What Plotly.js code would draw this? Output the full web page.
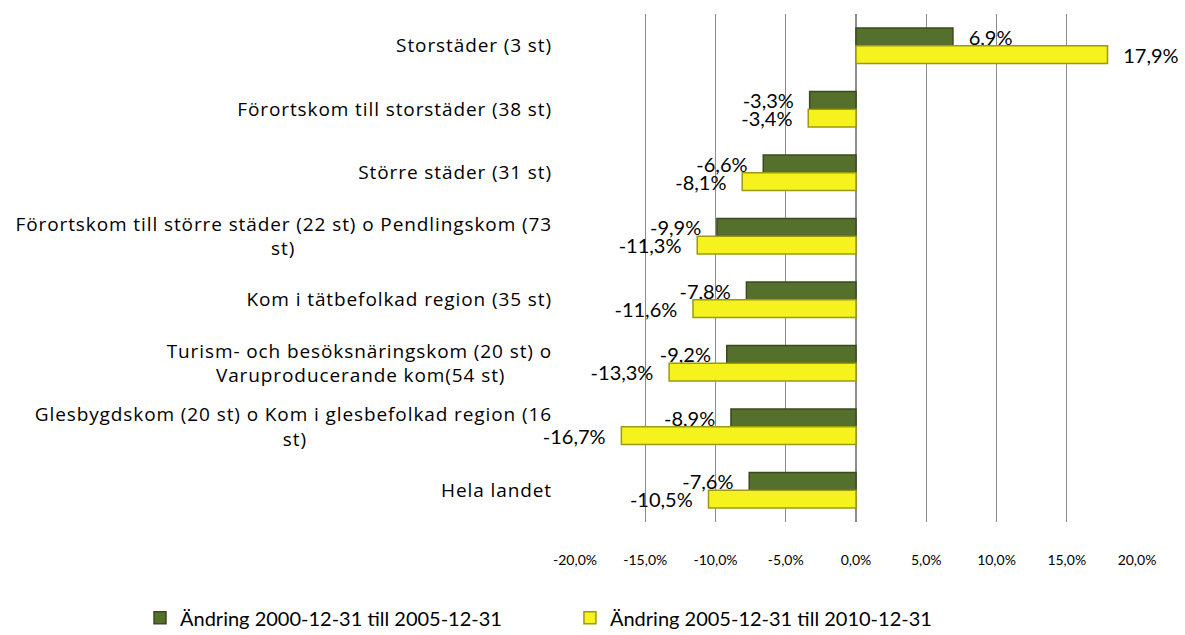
<!DOCTYPE html>
<html><head><meta charset="utf-8">
<script src="https://cdn.plot.ly/plotly-3.0.1.min.js"></script>
<style>body{margin:0;background:#fff}#chart{width:1185px;height:635px}
#chart .ytick text{letter-spacing:0.9px}</style>
</head><body><div id="chart"></div>
<script>
const categories = [
  "Storstäder (3 st)",
  "Förortskom till storstäder (38 st)",
  "Större städer (31 st)",
  "Förortskom till större städer (22 st) o Pendlingskom (73<br>st)",
  "Kom i tätbefolkad region (35 st)",
  "Turism- och besöksnäringskom (20 st) o<br>Varuproducerande kom(54 st)",
  "Glesbygdskom (20 st) o Kom i glesbefolkad region (16<br>st)",
  "Hela landet"
];
const series1Name = "Ändring 2000-12-31 till 2005-12-31";
const series2Name = "Ändring 2005-12-31 till 2010-12-31";
const series1 = [6.9, -3.3, -6.6, -9.9, -7.8, -9.2, -8.9, -7.6];
const series2 = [17.9, -3.4, -8.1, -11.3, -11.6, -13.3, -16.7, -10.5];
const xTickVals = [-20, -15, -10, -5, 0, 5, 10, 15, 20];

const font = "Lato, 'Open Sans', sans-serif";
const catFont = "'Open Sans', Lato, sans-serif";
const catSize = 19, catSpacing = 0.9;

// gap between bar end and value label
const GAP = '\u00a0\u00a0\u2009';
const fmt = v => {
  const s = v.toFixed(1).replace('.', ',') + '%';
  return v >= 0 ? GAP + s : s + GAP;
};

// centre the lines of multi-line category labels (as in the reference)
const ctx = document.createElement('canvas').getContext('2d');
ctx.font = catSize + "px 'Open Sans'";
const w = s => ctx.measureText(s).width + catSpacing * s.length;
const nbspW = w('\u00a0');
function centred(label) {
  const lines = label.split('<br>');
  if (lines.length < 2) return label;
  const maxW = Math.max(...lines.map(w));
  return lines.map(l => l + '\u00a0'.repeat(Math.max(0, Math.round((maxW - w(l)) / 2 / nbspW)))).join('<br>');
}
const tickText = categories.map(centred);

const traces = [
  {type:'bar', orientation:'h', name:series1Name, y:categories, x:series1.map(v=>v/100),
   text:series1.map(fmt), textposition:'outside', cliponaxis:false, constraintext:'none',
   textfont:{family:font, size:20, color:'#000'},
   marker:{color:'#55702c', line:{color:'#3a4a1c', width:1.5}}, legend:'legend'},
  {type:'bar', orientation:'h', name:series2Name, y:categories, x:series2.map(v=>v/100),
   text:series2.map(fmt), textposition:'outside', cliponaxis:false, constraintext:'none',
   textfont:{family:font, size:20, color:'#000'},
   marker:{color:'#f5f21e', line:{color:'#9c9a10', width:1.5}}, legend:'legend2'}
];

const legendCommon = {orientation:'h', yref:'container', y:0.027, yanchor:'middle', xanchor:'left',
  font:{family:font, size:20}, itemwidth:30, bgcolor:'rgba(0,0,0,0)'};

const n = categories.length;
const boundaries = Array.from({length:n+1}, (_, i) => i - 0.5);

const layout = {
  width:1185, height:635,
  margin:{l:575, r:48, t:14, b:113},
  paper_bgcolor:'#fff', plot_bgcolor:'#fff',
  barmode:'group', bargap:0.44, bargroupgap:0,
  font:{family:font, color:'#000'},
  showlegend:true,
  legend:Object.assign({}, legendCommon, {x:-0.774}),
  legend2:Object.assign({}, legendCommon, {x:-0.009}),
  xaxis:{range:[-0.2,0.2], tickvals:xTickVals.map(v=>v/100),
         ticktext:xTickVals.map(v=>v.toFixed(1).replace('.', ',')+'%'),
         showgrid:true, gridcolor:'#8c8c8c', gridwidth:1,
         zeroline:true, zerolinecolor:'#8c8c8c', zerolinewidth:1.5,
         showline:false, ticks:'', ticklabelstandoff:28,
         tickfont:{family:font, size:14}, fixedrange:true},
  yaxis:{type:'category', autorange:'reversed', showgrid:false, zeroline:false,
         showline:false, ticks:'', ticklabelstandoff:22,
         tickmode:'array', tickvals:categories, ticktext:tickText,
         tickfont:{family:catFont, size:catSize}, fixedrange:true},
  yaxis2:{overlaying:'y', anchor:'free', position:0.5, side:'left',
          range:[n-0.5, -0.5], tickmode:'array', tickvals:boundaries,
          ticks:'outside', ticklen:8, tickcolor:'#8c8c8c', tickwidth:1,
          showticklabels:false, showgrid:false, zeroline:false,
          showline:true, linecolor:'#8c8c8c', linewidth:1.5, fixedrange:true}
};

Plotly.newPlot('chart', traces, layout, {displayModeBar:false, staticPlot:true});
</script></body></html>
